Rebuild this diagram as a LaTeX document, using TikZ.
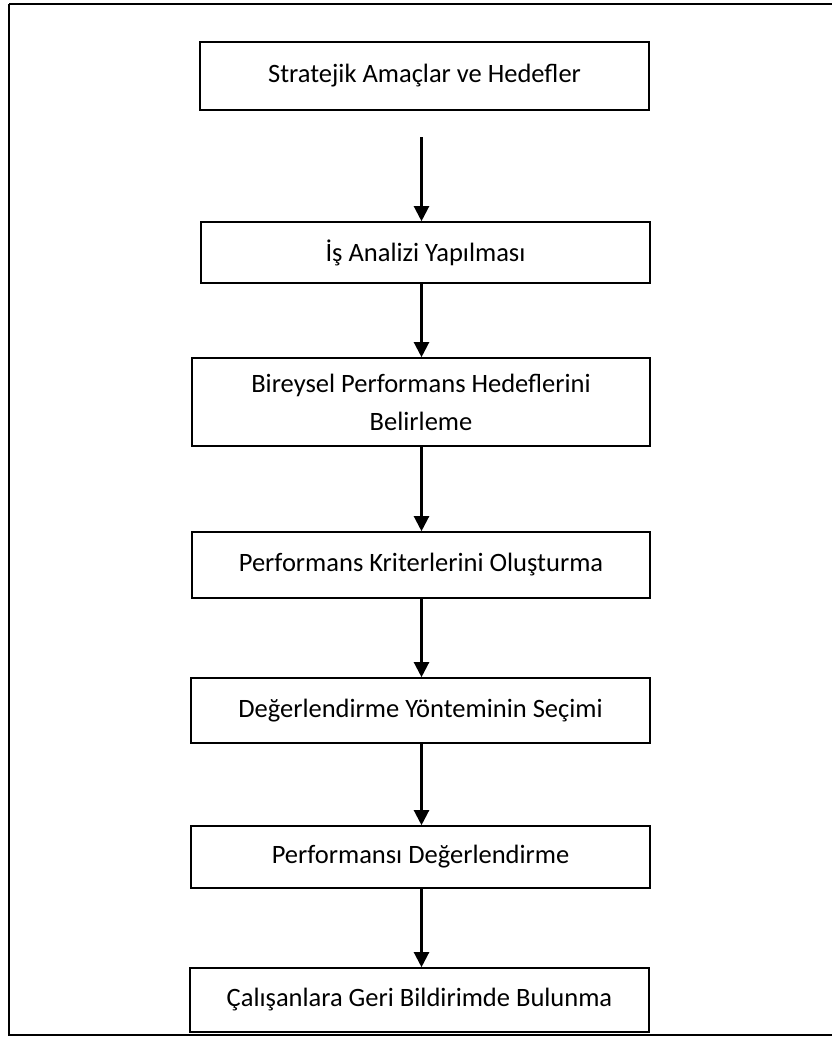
\documentclass[tikz,border=0pt]{standalone}
\usepackage{fontspec}
\setmainfont{Carlito}
\usetikzlibrary{arrows.meta}
\begin{document}
\begin{tikzpicture}[x=1pt,y=-1pt,
  stepbox/.style={draw, line width=1.6pt, rectangle, align=center, inner sep=0pt,
    font=\fontsize{26.5}{38}\selectfont},
  flow/.style={line width=2.2pt, -{Triangle[length=15pt,width=15pt]}}]
\useasboundingbox (0,0) rectangle (832,1037);
\draw[line width=1.8pt] (9,4) -- (845,4) (9,4) -- (9,1035) -- (845,1035);
\node[stepbox, minimum width=449pt, minimum height=68pt] (b1) at (424.5,76) {Stratejik Amaçlar ve Hedefler};
\node[stepbox, minimum width=449pt, minimum height=61pt] (b2) at (425.5,252.5) {İş Analizi Yapılması};
\node[stepbox, minimum width=458pt, minimum height=88pt] (b3) at (421,402) {Bireysel Performans Hedeflerini\\Belirleme};
\node[stepbox, minimum width=458pt, minimum height=66pt] (b4) at (421,565) {Performans Kriterlerini Oluşturma};
\node[stepbox, minimum width=459pt, minimum height=65pt] (b5) at (420.5,710.5) {Değerlendirme Yönteminin Seçimi};
\node[stepbox, minimum width=459pt, minimum height=62pt] (b6) at (420.5,857) {Performansı Değerlendirme};
\node[stepbox, minimum width=459pt, minimum height=64pt] (b7) at (419.5,1000) {Çalışanlara Geri Bildirimde Bulunma};
\coordinate (ax) at (421.5,0);
\coordinate (s1) at (421.5,137);
\draw[flow] (s1) -- (b2.north -| ax);
\draw[flow] (b2.south -| ax) -- (b3.north -| ax);
\draw[flow] (b3.south -| ax) -- (b4.north -| ax);
\draw[flow] (b4.south -| ax) -- (b5.north -| ax);
\draw[flow] (b5.south -| ax) -- (b6.north -| ax);
\draw[flow] (b6.south -| ax) -- (b7.north -| ax);
\end{tikzpicture}
\end{document}
